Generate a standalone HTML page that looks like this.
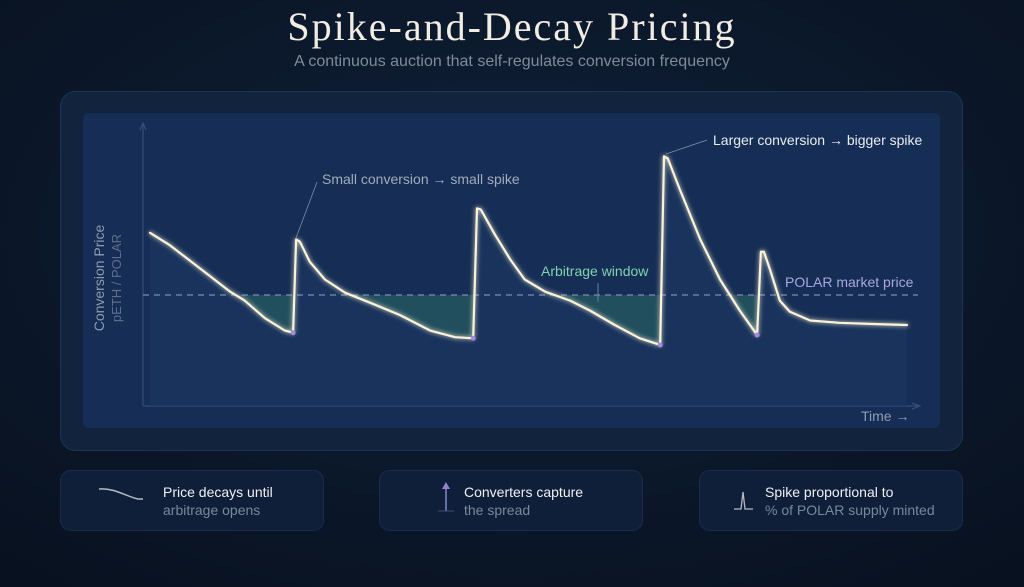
<!DOCTYPE html>
<html><head><meta charset="utf-8"><style>
html,body{margin:0;padding:0;width:1024px;height:587px;overflow:hidden;background:#0b1729}
svg{display:block}
text{font-family:"Liberation Sans",sans-serif}
</style></head><body>
<svg id="chart" width="1024" height="587" viewBox="0 0 1024 587" xmlns="http://www.w3.org/2000/svg">
<defs>
<radialGradient id="bg" cx="50%" cy="40%" r="75%"><stop offset="0" stop-color="#10213a"/><stop offset="1" stop-color="#08111f"/></radialGradient>
<filter id="glow" x="-10%" y="-10%" width="120%" height="120%"><feGaussianBlur stdDeviation="2.5" result="b"/><feMerge><feMergeNode in="b"/><feMergeNode in="SourceGraphic"/></feMerge></filter>
<clipPath id="below"><rect id="belowRect" x="140" y="295" width="800" height="120"/></clipPath>
</defs>
<rect width="1024" height="587" fill="url(#bg)"/>
<text x="512" y="40" text-anchor="middle" font-size="40" fill="#f2ede4" letter-spacing="2" style="font-family:'Liberation Serif',serif">Spike-and-Decay Pricing</text>
<text x="512" y="66" text-anchor="middle" font-size="16" fill="#7f8a9c">A continuous auction that self-regulates conversion frequency</text>
<rect x="60.5" y="91.5" width="902" height="359" rx="15" fill="#12243d" stroke="#1f3350"/>
<rect x="83" y="113" width="857" height="315" rx="6" fill="#162e55"/>
<g id="axes"></g>
<g id="series"></g>
<text transform="translate(104,278) rotate(-90)" text-anchor="middle" font-size="14" fill="#8e9bb2">Conversion Price</text>
<text transform="translate(121,278) rotate(-90)" text-anchor="middle" font-size="13" fill="#5f6f8a">pETH / POLAR</text>
<text x="861" y="421" font-size="14" fill="#8e9bb2">Time →</text>
<text x="785" y="287" font-size="14" fill="#a9a6e0">POLAR market price</text>
<text x="541" y="276" font-size="14" fill="#7fd3b0">Arbitrage window</text>
<line x1="598" y1="283" x2="598" y2="302" stroke="#5f8aa0" stroke-width="1"/>
<text x="322" y="184" font-size="14" fill="#a1abbc">Small conversion → small spike</text>
<line x1="317" y1="182" x2="296" y2="238" stroke="#8391a8" stroke-width="0.8"/>
<text x="713" y="145" font-size="14" fill="#e8ebf0">Larger conversion → bigger spike</text>
<line x1="707" y1="140" x2="666" y2="154" stroke="#8391a8" stroke-width="0.8"/>

<g>
<rect x="60.5" y="470.5" width="263" height="60" rx="10" fill="#0f1f39" stroke="#1a2c48"/>
<path d="M99 489 C115 488,125 496,138 499 L143 499" stroke="#b5b9c4" stroke-width="1.5" fill="none"/>
<text x="163" y="497" font-size="14" fill="#eef0f4">Price decays until</text>
<text x="163" y="515" font-size="14" fill="#7b8699">arbitrage opens</text>
</g>
<g>
<rect x="379.5" y="470.5" width="263" height="60" rx="10" fill="#0f1f39" stroke="#1a2c48"/>
<line x1="446" y1="511" x2="446" y2="485" stroke="#8c86c6" stroke-width="1.5"/>
<path d="M442 489 L446 482 L450 489Z" fill="#8c86c6"/>
<line x1="438" y1="511" x2="454" y2="511" stroke="#3f4e6a" stroke-width="1"/>
<text x="464" y="497" font-size="14" fill="#eef0f4">Converters capture</text>
<text x="464" y="515" font-size="14" fill="#7b8699">the spread</text>
</g>
<g>
<rect x="699.5" y="470.5" width="263" height="60" rx="10" fill="#0f1f39" stroke="#1a2c48"/>
<path d="M734 509 L741 509 L743 492 L745 509 L753 509" stroke="#b5b9c4" stroke-width="1.3" fill="none"/>
<text x="765" y="497" font-size="14" fill="#eef0f4">Spike proportional to</text>
<text x="765" y="515" font-size="14" fill="#7b8699">% of POLAR supply minted</text>
</g>
</svg>
<script>
const times=[0,2.6,6.6,10.6,12.5,15.2,17.8,18.9,19.3,19.8,21.1,23.1,25.8,29.1,33.0,37.0,40.3,42.7,43.2,43.7,45.6,47.6,49.5,52.2,55.5,58.1,61.4,64.7,67.4,67.9,68.4,70.0,72.7,75.3,77.9,80.2,80.7,81.1,81.9,83.2,84.5,87.2,91.1,95.1,100];
const prices=[1.56,1.45,1.24,1.03,0.95,0.79,0.68,0.66,1.50,1.48,1.30,1.14,1.02,0.93,0.82,0.68,0.62,0.61,1.78,1.77,1.54,1.32,1.14,1.03,0.95,0.86,0.73,0.61,0.55,2.25,2.23,1.95,1.50,1.14,0.86,0.64,1.39,1.39,1.23,0.95,0.85,0.77,0.75,0.74,0.73];
const marketPrice=[1.0];
const conversionIdx=[7,17,28,35];
const X=t=>150+t*7.57;
const Y=p=>406-p*111;
const NS="http://www.w3.org/2000/svg";
const axes=document.getElementById('axes'),series=document.getElementById('series');
function mk(tag,attrs,parent){const e=document.createElementNS(NS,tag);for(const k in attrs)e.setAttribute(k,attrs[k]);parent.appendChild(e);return e;}
const lastConv=conversionIdx[conversionIdx.length-1];
const br=document.getElementById('belowRect');
br.setAttribute('y',Y(marketPrice[0]));
br.setAttribute('width',X(times[lastConv])-140);
const yAxis=mk('line',{x1:143,y1:406,x2:143,y2:125,stroke:'#3a5478','stroke-width':1},axes);


const yArrow=mk('path',{d:'M140 130 L143 123 L146 130',stroke:'#3a5478',fill:'none'},axes);


const xAxis=mk('line',{x1:143,y1:406,x2:918,y2:406,stroke:'#3a5478','stroke-width':1},axes);


const xArrow=mk('path',{d:'M912 403 L920 406 L912 409',stroke:'#3a5478',fill:'none'},axes);


let pts=times.map((t,i)=>[X(t),Y(prices[i])]);
let line='M'+pts.map(p=>p[0].toFixed(1)+' '+p[1].toFixed(1)).join(' L');
const under=mk('path',{d:line+` L${X(100)} 406 L${X(0)} 406Z`,fill:'#1b3660',opacity:0.7},series);


const arb=mk('path',{d:line+` L${X(100)} ${Y(marketPrice[0])} L${X(0)} ${Y(marketPrice[0])}Z`,fill:'#24535f','clip-path':'url(#below)',opacity:0.9},series);


const mkt=mk('line',{x1:143,x2:918,y1:Y(marketPrice[0]),y2:Y(marketPrice[0]),stroke:'#7d8cb3','stroke-width':1.2,'stroke-dasharray':'6 5'},series);


const pl=mk('path',{d:line,stroke:'#fbf3d8','stroke-width':2.2,fill:'none','stroke-linejoin':'round','stroke-linecap':'round',filter:'url(#glow)'},series);


conversionIdx.forEach(i=>{
  const c=mk('circle',{cx:X(times[i]),cy:Y(prices[i]),r:2.5,fill:'#a58be0'},series);
  
  
});
</script>
</body></html>
